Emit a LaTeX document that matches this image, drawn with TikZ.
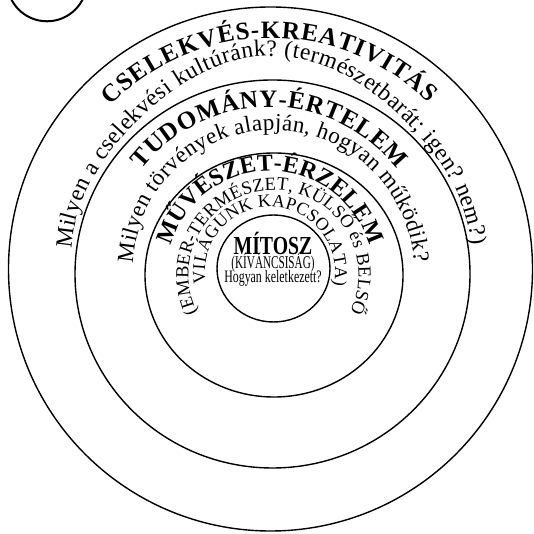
\documentclass[tikz,border=0pt]{standalone}
\usepackage{fontspec}
\setmainfont{Liberation Serif}
\usepackage{graphicx}
\usetikzlibrary{positioning, decorations.text}

\tikzset{
  ring/.style={draw, line width=1.4pt},
  arctext/.style={decorate, decoration={text along path, text={#1}, text align={fit to path}}},
}

\begin{document}
\begin{tikzpicture}[x=1pt, y=1pt, node distance=14pt]
\useasboundingbox (0,0) rectangle (534,534);
\clip (0,0) rectangle (534,534);
% centres of the rings
\coordinate (c0) at (270.5,265);
\coordinate (c1) at (272.5,260);
\coordinate (c2) at (274,259);
\coordinate (c3) at (273.5,265.5);
\coordinate (cc) at (47,552.7);
\draw[ring] (c0) circle[radius=262];
\draw[ring] (c1) ellipse[x radius=197.5, y radius=194];
\draw[ring] (c2) ellipse[x radius=129, y radius=122];
\draw[ring] (c3) ellipse[x radius=56.5, y radius=53.5];
\draw[line width=2pt] (cc) circle[radius=40];
% baselines of the arched texts
\coordinate (t1) at (271,273);
\coordinate (t3) at (269.5,265);
\coordinate (t4) at (273.5,263.3);
\coordinate (t5) at (270,260);
\coordinate (t6) at (273.5,259);
\coordinate (t7) at (270,262);
\path[arctext={|\fontsize{25}{25}\selectfont\bfseries|CSELEKVÉS-KREATIVITÁS}]
  (t1) ++(136:223) arc[start angle=136, end angle=45, radius=223];
\path[arctext={|\fontsize{23.5}{23.5}\selectfont|Milyen a cselekvési kultúránk? (természetbarát; igen? nem?)}]
  plot[domain=178:3, samples=90, variable=\t]
  ({271.5+(200-10*pow(sin(2*(\t-90)),2))*cos(\t)}, {278+(200-10*pow(sin(2*(\t-90)),2))*sin(\t)});
\path[arctext={|\fontsize{25}{25}\selectfont\bfseries|TUDOMÁNY-ÉRTELEM}]
  (t3) ++(142:162) arc[start angle=142, end angle=38, radius=162];
\path[arctext={|\fontsize{23}{23}\selectfont|Milyen törvények alapján, hogyan működik?}]
  (t4) ++(177:140.7) arc[start angle=177, end angle=3.5, radius=140.7];
\path[arctext={|\fontsize{24}{24}\selectfont\bfseries|MŰVÉSZET-ÉRZELEM}]
  (t5) ++(164:103) arc[start angle=164, end angle=16, radius=103];
\path[arctext={|\fontsize{18.5}{18.5}\selectfont|(EMBER-TERMÉSZET, KÜLSŐ és BELSŐ}]
  (t6) ++(206:85) arc[start angle=206, end angle=-26, radius=85];
\path[arctext={|\fontsize{18}{18}\selectfont|VILÁGUNK KAPCSOLATA)}]
  (t7) ++(190:65) arc[start angle=190, end angle=-12, radius=65];
% the core
\node[inner sep=0, anchor=base, font=\fontsize{26}{26}\selectfont\bfseries] (mitosz) at (273,279) {\scalebox{0.76}[1]{MÍTOSZ}};
\node[inner sep=0, below=of mitosz.base, anchor=base, font=\fontsize{18}{18}\selectfont] (kivancs) {\scalebox{0.62}[1]{(KÍVÁNCSISÁG)}};
\node[inner sep=0, below=of kivancs.base, anchor=base, font=\fontsize{17.5}{17.5}\selectfont] (hogyan) {\scalebox{0.68}[1]{Hogyan keletkezett?}};
\end{tikzpicture}
\end{document}
